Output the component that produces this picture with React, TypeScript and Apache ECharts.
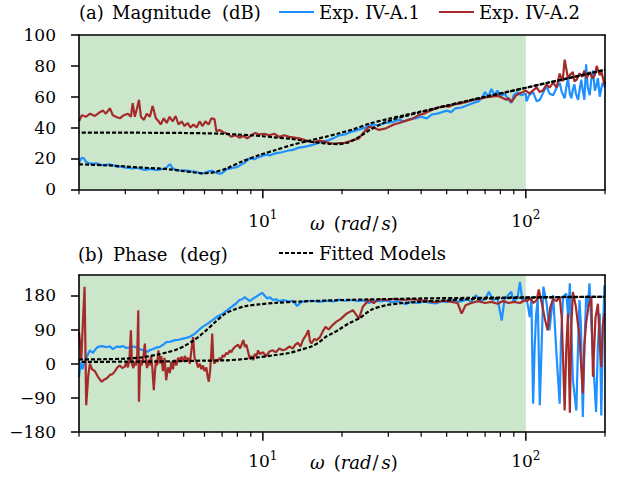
import React, { useEffect, useRef } from 'react';
import * as echarts from 'echarts';

const FONT = 'DejaVu Serif';
const BLUE = '#1e90ff';
const RED = '#a52a2a';

const xRange = [2, 200];
const bandRange = [2, 100];
const majorTicks = [10, 100];
const minorTicks = [2, 3, 4, 5, 6, 7, 8, 9, 20, 30, 40, 50, 60, 70, 80, 90, 200];
const magRange = [0, 100];
const phaseRange = [-180, 234];
const phaseTicks = [-180, -90, 0, 90, 180];

const magExp1: [number, number][] = [
  [2.0, 17], [2.03, 19.5], [2.06, 20.5], [2.09, 20], [2.12, 18], [2.17, 17], [2.25, 16.5], [2.33, 16.8], [2.4, 16],
  [2.5, 15.5], [2.6, 16.2], [2.7, 15.6], [2.8, 14.5], [2.9, 14.8], [3.0, 14], [3.1, 13.8], [3.2, 13.5], [3.3, 14],
  [3.4, 13.5], [3.5, 12.8], [3.6, 12.5], [3.7, 13.2], [3.8, 13], [3.9, 12.6], [4.0, 12.5], [4.1, 13.1], [4.2, 13],
  [4.3, 14], [4.38, 15.5], [4.45, 16.2], [4.52, 14], [4.6, 13], [4.75, 12.4], [4.9, 12], [5.05, 12.3], [5.2, 12],
  [5.35, 11.6], [5.5, 11.5], [5.65, 11], [5.8, 10.2], [5.95, 10.5], [6.1, 11], [6.25, 11.8], [6.4, 12], [6.55, 11.2],
  [6.7, 10.6], [6.85, 10.2], [7.0, 10.5], [7.15, 11.8], [7.3, 13], [7.5, 13.4], [7.7, 14], [7.9, 14.2], [8.1, 15],
  [8.3, 16.2], [8.5, 17], [8.7, 18.5], [8.9, 20], [9.1, 19.8], [9.3, 19.5], [9.5, 20.4], [9.7, 21], [10.0, 21.8],
  [10.3, 22.5], [10.7, 22], [11.0, 23], [11.3, 23.5], [11.8, 24], [12.4, 25], [13.0, 25.5], [13.7, 27], [14.4, 27.5],
  [15.2, 28.5], [16.0, 29.5], [16.8, 31], [17.6, 31.5], [18.5, 33], [19.5, 35], [20.5, 35.5], [21.5, 37], [23, 38.5],
  [24.5, 40], [26, 42], [27.5, 41.5], [29, 43], [31, 43.5], [33, 45], [34.5, 44], [36, 45.5], [38, 46], [40, 47],
  [42, 46], [44, 48.5], [46, 49], [48, 50], [50, 51], [52, 50], [54, 52.5], [57, 53], [60, 54.5], [63, 56], [66, 57],
  [68, 59], [70, 63], [72, 60], [74, 65], [76, 61], [78, 64], [80, 60], [83, 62], [86, 58], [88, 56], [90, 61],
  [93, 63], [96, 61], [100, 62], [100.6, 57], [103, 61], [106.6, 63], [110, 57], [113, 58], [116, 62], [119.8, 67],
  [123, 62], [127, 61], [131, 66], [134.5, 69], [137, 63], [140.5, 59], [142.5, 66], [144.6, 72], [147, 62], [149, 59],
  [151, 65], [153, 68], [155, 62], [158, 58], [160, 64], [162.5, 71], [165, 63], [167, 58], [169.5, 81], [172, 66],
  [175, 61], [177, 70], [180, 77], [183, 64], [185, 66], [188, 72], [191, 60], [194, 66], [196, 69], [200, 66],
];

const magExp2: [number, number][] = [
  [2.0, 44], [2.05, 48], [2.13, 47], [2.2, 49], [2.3, 47.5], [2.4, 50], [2.47, 51], [2.53, 49], [2.62, 52.5],
  [2.69, 48], [2.76, 47], [2.86, 46], [2.96, 48], [3.07, 49], [3.15, 47], [3.2, 55.8], [3.26, 47], [3.32, 52],
  [3.38, 57.9], [3.44, 47], [3.53, 45], [3.62, 49], [3.72, 47], [3.81, 54], [3.92, 46], [4.02, 44], [4.09, 42],
  [4.2, 46], [4.31, 43], [4.42, 47], [4.54, 44], [4.66, 47.5], [4.78, 42], [4.91, 44], [5.04, 41], [5.18, 43],
  [5.31, 40], [5.45, 42], [5.6, 40], [5.75, 44], [5.9, 41], [6.05, 44], [6.22, 42], [6.38, 46], [6.55, 45.5],
  [6.66, 37.5], [6.84, 38.5], [7.08, 37], [7.33, 36], [7.59, 34], [7.86, 35], [8.14, 33.5], [8.43, 34.5], [8.73, 33],
  [9.04, 35], [9.36, 36.5], [9.7, 35.5], [10.13, 36], [10.58, 35], [11.05, 36], [11.55, 34], [12.06, 35], [12.6, 34],
  [13.16, 33.5], [13.75, 33], [14.36, 32], [15.0, 31], [15.67, 30.5], [16.37, 31.5], [17.1, 31], [17.86, 30],
  [18.65, 29.5], [19.48, 30], [20.35, 30], [21.26, 31], [22.2, 32], [23.2, 33], [24.2, 37], [25.3, 40.5], [26.4, 40],
  [27.6, 38.5], [29.4, 39.5], [31.5, 42], [33, 43], [34.3, 44], [36.8, 45.5], [39.1, 48], [41, 49], [42.7, 50.5],
  [45.4, 52.5], [48.7, 54], [51, 53.5], [53.1, 55], [56, 55.5], [60.5, 57], [63, 58], [66.1, 58.5], [70, 59.5],
  [74.0, 60], [78.7, 60.5], [84.3, 58], [86, 59], [88.1, 56.5], [92, 61], [96, 62.5], [100, 64], [103.5, 62],
  [106.3, 64], [110, 66], [113, 63], [116, 64], [120, 68], [123, 66], [127, 69], [131, 66], [134.5, 75], [138, 70],
  [140.5, 84], [144.6, 72], [147, 74], [151, 76], [153, 70], [156, 71], [160, 75], [164, 73], [167, 77], [170, 72],
  [175, 76], [179, 72], [183, 74], [186, 80], [191, 74], [194, 76], [199, 68], [200, 70],
];

const magFit1: [number, number][] = [
  [2, 16.2], [2.5, 15.6], [3, 14.8], [3.5, 14], [4, 13.5], [4.5, 12.8], [5, 11.8], [5.5, 10.9], [5.9, 10.4],
  [6.5, 11], [7.3, 13.6], [8.3, 17.9], [9.7, 22.2], [11.2, 25.5], [12.9, 28.7], [15, 31.5], [17.3, 34], [19.5, 36.3],
  [22, 38.8], [25.5, 42.6], [30, 45.6], [35, 48.2], [39.1, 50.1], [45, 52.4], [50, 54.2], [60, 57.3], [70, 59.9],
  [85, 63.1], [100, 65.8], [120, 68.9], [140, 71.4], [170, 74.7], [200, 77.4],
];

const magFit2: [number, number][] = [
  [2, 36.7], [3, 36.7], [4, 36.6], [5, 36.5], [6, 36.3], [7, 36], [8, 35.5], [9, 35], [10, 34.4], [11, 33.7],
  [12.9, 32.6], [14.5, 31.3], [16.3, 30.2], [18, 29.5], [19.5, 29.3], [21, 30.2], [22.5, 32.6], [24, 35.5],
  [25.5, 38.4], [28, 42], [31, 45], [35, 47.6], [39.1, 49.6], [45, 52.2], [50, 54.1], [60, 57.3], [70, 59.9],
  [85, 63.1], [100, 65.8], [120, 68.9], [140, 71.4], [170, 74.7], [200, 77.4],
];

const phaseExp1: [number, number][] = [
  [2.0, -35], [2.03, 4], [2.06, -15], [2.08, -4], [2.11, 10], [2.14, 17.6], [2.2, 35], [2.26, 28], [2.31, 38],
  [2.36, 44], [2.45, 46], [2.55, 43], [2.62, 46], [2.69, 38], [2.78, 45], [2.86, 44], [2.95, 46], [3.03, 41],
  [3.12, 43], [3.25, 45], [3.41, 38], [3.52, 35], [3.65, 31], [3.72, 36], [3.81, 38], [3.92, 42], [4.06, 44],
  [4.18, 50], [4.31, 57], [4.46, 58], [4.63, 62], [4.8, 63], [4.96, 66], [5.12, 68], [5.28, 71], [5.4, 75],
  [5.52, 79], [5.7, 88], [5.9, 97], [6.15, 105], [6.44, 115], [6.75, 125], [7.04, 132], [7.35, 142], [7.67, 152],
  [7.9, 158], [8.14, 168], [8.35, 170], [8.54, 176], [8.72, 170], [8.92, 165], [9.2, 172], [9.5, 178], [9.7, 182],
  [9.94, 187], [10.15, 180], [10.4, 172], [10.65, 175], [10.9, 168], [11.2, 170], [11.55, 165], [12, 168],
  [12.6, 164], [13, 166], [13.5, 152], [14, 163], [14.6, 165], [15.5, 166], [16.4, 163], [17.5, 166], [18.5, 164],
  [19.5, 169], [20.5, 166], [21.9, 168], [23, 165], [24, 167], [25.3, 160], [26.5, 166], [28, 164], [29.4, 167],
  [31, 162], [32.5, 165], [34.9, 157], [36.5, 163], [39.1, 160], [41, 164], [43, 161], [45.4, 159], [48, 165],
  [50, 162], [52.1, 168], [55, 163], [57, 165], [60, 170], [62, 162], [64.7, 181], [67, 165], [70, 170], [72.4, 190],
  [75, 168], [78, 172], [81, 114], [83, 170], [85, 178], [88, 190], [90, 163], [93, 175], [95, 216], [97, 165],
  [100, 172], [101, 165], [102, 150], [103.5, 123], [105, 170], [106.6, -106], [108, 40], [109.5, 132], [111, 170],
  [113, -110], [115, 60], [116.6, 203], [120, 159], [123, 88], [127, 181], [131, 17], [134.5, -106], [136, 60],
  [138.5, 176], [142.6, 185], [145, 120], [147, 212], [151, -44], [155.6, -124], [158, 50], [160, 168], [162, 100],
  [164.7, -141], [167, 40], [169.5, 176], [172, 150], [174.6, 212], [177, 120], [180, 17], [185, -128], [188, 50],
  [191, 132], [193.6, -137], [196, 60], [199, 207],
];

const phaseExp2: [number, number][] = [
  [2.0, 84], [2.02, 50], [2.04, 10], [2.07, 110], [2.1, 203], [2.13, -110], [2.17, -30], [2.2, 0], [2.24, -15],
  [2.3, -20], [2.36, -35], [2.44, -48], [2.5, -42], [2.56, -38], [2.62, -30], [2.68, -28], [2.74, -20], [2.8, -10],
  [2.86, -5], [2.92, -12], [2.99, -8], [3.03, 5], [3.07, -10], [3.11, 10], [3.15, 88], [3.18, 0], [3.22, -12],
  [3.26, 5], [3.29, -5], [3.33, 20], [3.36, 141], [3.38, -101], [3.42, 10], [3.46, -5], [3.51, 15], [3.56, 53],
  [3.6, 0], [3.63, -12], [3.68, 10], [3.72, -5], [3.76, 20], [3.8, -10], [3.85, -70], [3.89, -20], [3.93, 10],
  [3.96, -5], [4.01, 35], [4.06, 0], [4.11, 20], [4.17, -20], [4.23, 15], [4.29, -44], [4.36, -10], [4.43, -25],
  [4.49, 5], [4.55, -15], [4.62, 10], [4.69, -5], [4.76, 15], [4.84, 10], [4.91, 18], [4.98, 5], [5.05, 20],
  [5.13, 10], [5.2, 15], [5.28, 0], [5.35, 35], [5.43, 70], [5.5, 15], [5.59, 5], [5.67, -10], [5.75, 0],
  [5.84, -15], [5.92, -5], [6.01, -20], [6.1, -10], [6.17, -35], [6.23, -48], [6.3, -20], [6.37, 30], [6.42, 79],
  [6.48, 10], [6.55, 0], [6.64, 10], [6.74, 5], [6.84, 15], [6.94, 10], [7.04, 22], [7.14, 18], [7.25, 28],
  [7.37, 25], [7.49, 35], [7.59, 30], [7.69, 38], [7.86, 45], [8.04, 50], [8.2, 40], [8.43, 62], [8.55, 44],
  [8.66, 50], [8.8, 30], [8.92, 12], [9.05, 20], [9.19, 9], [9.32, 25], [9.46, 20], [9.6, 35], [9.74, 25], [10, 30],
  [10.3, 20], [10.6, 32], [10.9, 35], [11.2, 30], [11.55, 40], [11.9, 35], [12.25, 38], [12.6, 45], [13, 40],
  [13.3, 50], [13.6, 55], [13.9, 45], [14.2, 62], [14.6, 75], [14.9, 88], [15.1, 60], [15.3, 53], [15.7, 65],
  [16, 62], [16.5, 70], [16.9, 85], [17.3, 97], [17.8, 90], [18.3, 100], [19, 110], [19.8, 118], [20.8, 132],
  [22, 141], [23.2, 119], [24, 150], [25.3, 168], [26.4, 160], [27.6, 170], [29.4, 168], [31.5, 171], [34.3, 168],
  [36.8, 170], [39.1, 168], [42.7, 165], [45.4, 162], [49, 166], [52.1, 163], [55, 160], [57, 132], [59, 154],
  [62, 160], [66, 165], [70, 160], [74, 163], [78, 158], [82, 165], [86, 160], [90, 163], [95, 160], [100, 168],
  [101, 165], [104, 172], [107, 160], [110, 168], [112, 196], [115, 160], [118, 120], [121, 88], [124, 150],
  [127, 170], [131, 165], [134.5, 176], [137, 120], [140.5, -124], [142.5, 40], [144.6, 132], [147, -130],
  [149, 100], [151, 189], [155, 150], [160, 70], [164.7, -79], [167, 50], [169.5, 106], [173, 150], [177.5, 176],
  [180, -35], [184, 120], [188, 158], [191, 60], [193.6, -9], [196, 100], [199, 132],
];

const phaseFit1: [number, number][] = [
  [2, 10.6], [2.5, 11.5], [3, 13], [3.5, 16.7], [4, 24], [4.35, 30], [4.7, 37], [5.05, 47], [5.4, 59], [5.75, 73],
  [6.1, 88], [6.6, 110], [7.2, 132], [7.8, 143], [8.6, 151.7], [9.7, 156.5], [11.2, 160.5], [14, 164], [19.5, 167.6],
  [28, 170], [40, 172], [60, 173.5], [100, 175], [140, 176], [200, 176.5],
];

const phaseFit2: [number, number][] = [
  [2, 4.3], [3, 5], [4, 5.5], [5, 6.5], [6, 7.8], [7.3, 8.7], [8.5, 12], [9.7, 16.7], [11, 22], [12.6, 28],
  [14, 37], [15.4, 46], [16.4, 57], [17.3, 70], [18.4, 80], [19.5, 90], [21.2, 106], [23.2, 119], [24.6, 132],
  [26, 143], [29.4, 154], [33, 159], [39, 163], [50, 167], [60, 170], [100, 174], [200, 176.5],
];

const legendTop = ['Exp. IV-A.1', 'Exp. IV-A.2'];
const legendBottom = ['Fitted Models'];

const black = '#000';
const TICK_SIZE = 17;
const LEGEND_SIZE = 18;
const TITLE_SIZE = 18;
const OMEGA_SIZE = 18;

function xLabelFormatter(v: number) {
  if (Math.abs(v - 10) < 1e-6) return '{b|10}{s|1}';
  if (Math.abs(v - 100) < 1e-6) return '{b|10}{s|2}';
  return '';
}

function phaseFormatter(v: number) {
  return v < 0 ? '\u2212' + Math.abs(v) : String(v);
}

function tickSeries(values: number[], yBase: number, len: number, width: number, axisIndex: number) {
  return {
    type: 'custom',
    xAxisIndex: axisIndex,
    yAxisIndex: axisIndex,
    data: values.map((v) => [v, yBase]),
    silent: true,
    clip: false,
    z: 10,
    renderItem: (params: any, api: any) => {
      const p = api.coord([api.value(0), api.value(1)]);
      return {
        type: 'line',
        shape: { x1: p[0], y1: p[1], x2: p[0], y2: p[1] + len },
        style: { stroke: black, lineWidth: width },
      };
    },
  };
}

function expLine(name: string, data: [number, number][], color: string, idx: number) {
  return {
    type: 'line', name, data, xAxisIndex: idx, yAxisIndex: idx, symbol: 'none',
    lineStyle: { color, width: 2.2 }, itemStyle: { color }, z: 2, silent: true,
  };
}

function fitLine(data: [number, number][], idx: number, offset: number) {
  return {
    type: 'line', name: 'Fitted Models', data, xAxisIndex: idx, yAxisIndex: idx, symbol: 'none', smooth: 0.3,
    lineStyle: { color: black, width: 2.2, type: [4, 2], dashOffset: offset }, itemStyle: { color: black },
    z: 3, silent: true,
  };
}

function band(idx: number) {
  return {
    type: 'line', data: [], xAxisIndex: idx, yAxisIndex: idx, z: 1, silent: true,
    markArea: {
      silent: true,
      itemStyle: { color: 'rgba(0,128,0,0.2)' },
      data: [[{ xAxis: bandRange[0] }, { xAxis: bandRange[1] }]],
    },
  };
}

const frameLine = { show: true, onZero: false, lineStyle: { color: black, width: 1.6 } };

function mainX(grid: number, margin: number) {
  return {
    gridIndex: grid, type: 'log', logBase: 10, min: xRange[0], max: xRange[1], position: 'bottom',
    axisLine: frameLine, axisTick: { show: false }, splitLine: { show: false }, z: 10,
    axisLabel: {
      margin, formatter: xLabelFormatter, showMinLabel: true, showMaxLabel: true,
      fontFamily: FONT,
      rich: {
        b: { fontFamily: FONT, fontSize: TICK_SIZE, color: black, padding: [3, 0, 0, 0] },
        s: { fontFamily: FONT, fontSize: 12, color: black, verticalAlign: 'top' },
      },
    },
  };
}

function topX(grid: number) {
  return {
    gridIndex: grid, type: 'log', logBase: 10, min: xRange[0], max: xRange[1], position: 'top',
    axisLine: frameLine, axisTick: { show: false }, axisLabel: { show: false }, splitLine: { show: false }, z: 10,
  };
}

function rightY(grid: number, range: number[]) {
  return {
    gridIndex: grid, type: 'value', min: range[0], max: range[1], position: 'right',
    axisLine: frameLine, axisTick: { show: false }, axisLabel: { show: false }, splitLine: { show: false }, z: 10,
  };
}

const labelStyle = { fontFamily: FONT, fontSize: TICK_SIZE, color: black, margin: 23 };
const tickStyle = { show: true, length: 8, lineStyle: { color: black, width: 1.5 } };
const legendText = { fontFamily: FONT, fontSize: LEGEND_SIZE, color: black };

function titleText(text: string, x: number, y: number) {
  return {
    type: 'text', x, y, silent: true,
    style: { text, font: `${TITLE_SIZE}px "${FONT}"`, fill: black, verticalAlign: 'middle', align: 'left' },
  };
}

function omegaText(y: number) {
  const reg = `${OMEGA_SIZE}px "${FONT}"`;
  const ita = `italic ${OMEGA_SIZE}px "${FONT}"`;
  return {
    type: 'text', x: 310, y, silent: true,
    style: {
      text: '{w|ω}{n|(}{i|rad}{g|/}{i|s}{n|)}',
      font: reg,
      verticalAlign: 'middle', align: 'left', fill: black,
      rich: {
        w: { font: ita, fill: black, padding: [0, 9, 0, 0] },
        i: { font: ita, fill: black },
        n: { font: reg, fill: black },
        g: { font: reg, fill: black, padding: [0, 3, 0, 1] },
      },
    },
  };
}

const legendCommon = {
  padding: 0, itemWidth: 35, itemHeight: 14, selectedMode: false, textStyle: legendText, itemStyle: { opacity: 0 },
};

export default function App() {
  const ref = useRef<HTMLDivElement>(null);
  useEffect(() => {
    if (!ref.current) return;
    const chart = echarts.init(ref.current, undefined, { renderer: 'svg' });
    chart.setOption({
      animation: false,
      backgroundColor: '#fff',
      textStyle: { fontFamily: FONT },
      grid: [
        { left: 79, right: 13, top: 35, height: 154.3 },
        { left: 79, right: 13, top: 275, height: 156.7 },
      ],
      legend: [
        { ...legendCommon, data: legendTop, left: 278, top: 3, itemGap: 18 },
        { ...legendCommon, data: legendBottom, left: 278, top: 244 },
      ],
      xAxis: [mainX(0, 20), mainX(1, 18), topX(0), topX(1)],
      yAxis: [
        {
          gridIndex: 0, type: 'value', min: magRange[0], max: magRange[1], interval: 20, position: 'left',
          axisLine: frameLine, axisTick: tickStyle, axisLabel: labelStyle, splitLine: { show: false }, z: 10,
        },
        {
          gridIndex: 1, type: 'value', min: phaseRange[0], max: phaseRange[1], position: 'left',
          axisLine: frameLine, axisTick: { ...tickStyle, customValues: phaseTicks },
          axisLabel: { ...labelStyle, customValues: phaseTicks, formatter: phaseFormatter },
          splitLine: { show: false }, z: 10,
        },
        rightY(0, magRange),
        rightY(1, phaseRange),
      ],
      graphic: [
        titleText('(a)', 79, 12),
        titleText('Magnitude', 112, 12),
        titleText('(dB)', 222, 12),
        titleText('(b)', 78, 254),
        titleText('Phase', 113, 254),
        titleText('(deg)', 180, 254),
        omegaText(223),
        omegaText(462),
      ],
      series: [
        band(0), band(1),
        expLine('Exp. IV-A.1', magExp1, BLUE, 0),
        expLine('Exp. IV-A.2', magExp2, RED, 0),
        fitLine(magFit1, 0, 0),
        fitLine(magFit2, 0, 3),
        expLine('Exp. IV-A.1', phaseExp1, BLUE, 1),
        expLine('Exp. IV-A.2', phaseExp2, RED, 1),
        fitLine(phaseFit1, 1, 0),
        fitLine(phaseFit2, 1, 3),
        tickSeries(minorTicks, magRange[0], 5, 1.2, 0),
        tickSeries(majorTicks, magRange[0], 9, 1.5, 0),
        tickSeries(minorTicks, phaseRange[0], 5, 1.2, 1),
        tickSeries(majorTicks, phaseRange[0], 9, 1.5, 1),
      ],
    });
    return () => chart.dispose();
  }, []);
  return (
    <div ref={ref} style={{ position: 'fixed', left: 0, top: 0, width: 618, height: 479, background: '#fff' }} />
  );
}
